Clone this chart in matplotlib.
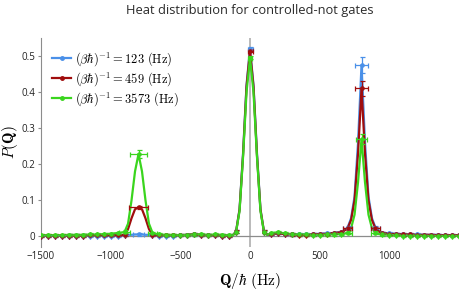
import matplotlib.pyplot as plt
from matplotlib.lines import Line2D
import numpy as np

plt.rcParams['font.family'] = ['Open Sans', 'DejaVu Sans']
plt.rcParams['mathtext.fontset'] = 'cm'

## Heat values Q/hbar (Hz) where the curves are sampled
q_grid = np.concatenate([np.arange(-1500, -949, 50), np.arange(-925, -674, 25),
                         np.arange(-650, -149, 50), np.arange(-125, 126, 25),
                         np.arange(150, 651, 50), np.arange(675, 926, 25),
                         np.arange(950, 1501, 50)])

## P(Q) for each temperature
p_123 = [0.001, 0.001, 0.001, 0.001, 0.002, 0.002, 0.002, 0.002, 0.002, 0.002, 0.002, 0.002,
         0.003, 0.003, 0.004, 0.004, 0.005, 0.005, 0.005, 0.004, 0.004, 0.003, 0.003,
         0.002, 0.002, 0.002, 0.003, 0.004, 0.005, 0.004, 0.003, 0.003, 0.002, 0.002,
         0.002, 0.013, 0.075, 0.23, 0.42, 0.52, 0.42, 0.23, 0.075, 0.013, 0.004,
         0.006, 0.008, 0.006, 0.005, 0.005, 0.005, 0.006, 0.007, 0.008, 0.009, 0.012,
         0.016, 0.024, 0.05, 0.11, 0.26, 0.475, 0.26, 0.11, 0.05, 0.024, 0.015,
         0.01, 0.008, 0.007, 0.006, 0.005, 0.005, 0.004, 0.004, 0.004, 0.003, 0.003, 0.003]

p_459 = [0.002, 0.002, 0.002, 0.002, 0.002, 0.002, 0.002, 0.003, 0.003, 0.003, 0.003, 0.003,
         0.003, 0.004, 0.02, 0.05, 0.075, 0.08, 0.075, 0.05, 0.02, 0.004, 0.003,
         0.003, 0.003, 0.003, 0.003, 0.004, 0.006, 0.004, 0.003, 0.003, 0.002, 0.002,
         0.002, 0.013, 0.074, 0.225, 0.415, 0.515, 0.415, 0.225, 0.074, 0.013, 0.004,
         0.006, 0.008, 0.006, 0.005, 0.004, 0.004, 0.005, 0.006, 0.007, 0.009, 0.011,
         0.015, 0.022, 0.045, 0.1, 0.23, 0.41, 0.23, 0.1, 0.045, 0.022, 0.013,
         0.009, 0.007, 0.006, 0.005, 0.005, 0.004, 0.004, 0.004, 0.003, 0.003, 0.003, 0.003]

p_3573 = [0.003, 0.003, 0.003, 0.003, 0.004, 0.004, 0.004, 0.005, 0.005, 0.006, 0.007, 0.009,
          0.01, 0.012, 0.035, 0.1, 0.18, 0.228, 0.18, 0.1, 0.035, 0.01, 0.006,
          0.005, 0.004, 0.004, 0.003, 0.004, 0.005, 0.005, 0.004, 0.005, 0.004, 0.003,
          0.002, 0.012, 0.07, 0.22, 0.40, 0.495, 0.40, 0.22, 0.07, 0.012, 0.004,
          0.009, 0.011, 0.008, 0.006, 0.005, 0.005, 0.004, 0.004, 0.005, 0.005, 0.006,
          0.007, 0.01, 0.022, 0.06, 0.15, 0.27, 0.15, 0.06, 0.022, 0.01, 0.006,
          0.005, 0.004, 0.003, 0.002, 0.002, 0.002, 0.001, 0.001, 0.001, 0.001, 0.001, 0.001]

## error bars (xerr, yerr) on the marked points, the rest get base_yerr
err_123 = {-800: (40, 0.003), 0: (18, 0.004), 700: (35, 0.004), 800: (45, 0.022), 900: (35, 0.004)}
err_459 = {-800: (65, 0.004), 0: (18, 0.004), 700: (35, 0.004), 800: (45, 0.02), 900: (35, 0.004)}
err_3573 = {-900: (40, 0.004), -800: (60, 0.012), -700: (35, 0.003), 0: (15, 0.004),
            700: (35, 0.004), 800: (40, 0.013), 900: (35, 0.004)}
base_yerr = 0.003

temps = [123, 459, 3573]
colors = ['#4a90e8', '#a00d0d', '#3ad51e']
peaks = [-800, 0, 800]


def marker_mask(q):
    ## one marker every 50 Hz, but only the top point inside each peak
    keep = (q % 50 == 0)
    for p in peaks:
        keep &= ~((np.abs(q - p) < 100) & (q != p))
    return keep


fig = plt.figure(figsize=(4.6, 2.9), dpi=100)
ax = fig.add_axes([0.089, 0.148, 0.909, 0.721])

ax.axvline(0, color='#b4b4b4', lw=1.3, zorder=0)
ax.axhline(0, color='#8c8c8c', lw=0.9, zorder=0)

mask = marker_mask(q_grid)
for p_vals, errs, col in zip([p_123, p_459, p_3573], [err_123, err_459, err_3573], colors):
    p_vals = np.array(p_vals)
    ax.plot(q_grid, p_vals, color=col, lw=1.6, zorder=2)
    qm = q_grid[mask]
    pm = p_vals[mask]
    xe = np.array([errs.get(q, (0, base_yerr))[0] for q in qm])
    ye = np.array([errs.get(q, (0, base_yerr))[1] for q in qm])
    ax.errorbar(qm, pm, xerr=xe, yerr=ye, fmt='o', ms=2.3, color=col,
                elinewidth=0.9, capsize=1.8, capthick=0.9, zorder=3)

ax.set_xlim(-1500, 1500)
ax.set_ylim(-0.03, 0.55)

for s in ['top', 'right', 'bottom']:
    ax.spines[s].set_visible(False)
ax.spines['left'].set_color('#8c8c8c')

ax.set_xticks([-1500, -1000, -500, 0, 500, 1000])
ax.set_xticklabels(['\u22121500', '\u22121000', '\u2212500', '0', '500', '1000'])
ax.tick_params(axis='x', length=0, pad=3, labelsize=7, labelcolor='#222222')
ax.set_yticks([0, 0.1, 0.2, 0.3, 0.4, 0.5])
ax.set_yticklabels(['0', '0.1', '0.2', '0.3', '0.4', '0.5'])
ax.tick_params(axis='y', length=2.5, width=0.8, color='#8c8c8c', pad=1.5,
               labelsize=7, labelcolor='#222222')

ax.set_xlabel(r'$\mathbf{Q}/\hbar\ (\mathrm{Hz})$', fontsize=11, labelpad=6)
ax.set_ylabel(r'$P(\mathbf{Q})$', fontsize=11, labelpad=1)
ax.set_title('Heat distribution for controlled-not gates', fontsize=9.3,
             color='#2a2a2a', pad=17)

handles = [Line2D([], [], color=c, lw=1.6, marker='o', ms=2.5) for c in colors]
labels = [r'$(\beta\hbar)^{-1} = %d\ (\mathrm{Hz})$' % t for t in temps]
ax.legend(handles, labels, loc='upper left', bbox_to_anchor=(0.015, 0.965),
          frameon=False, fontsize=9, handlelength=1.5, handletextpad=0.3,
          labelspacing=0.15, borderaxespad=0)

fig.savefig('out.png', dpi=100)
